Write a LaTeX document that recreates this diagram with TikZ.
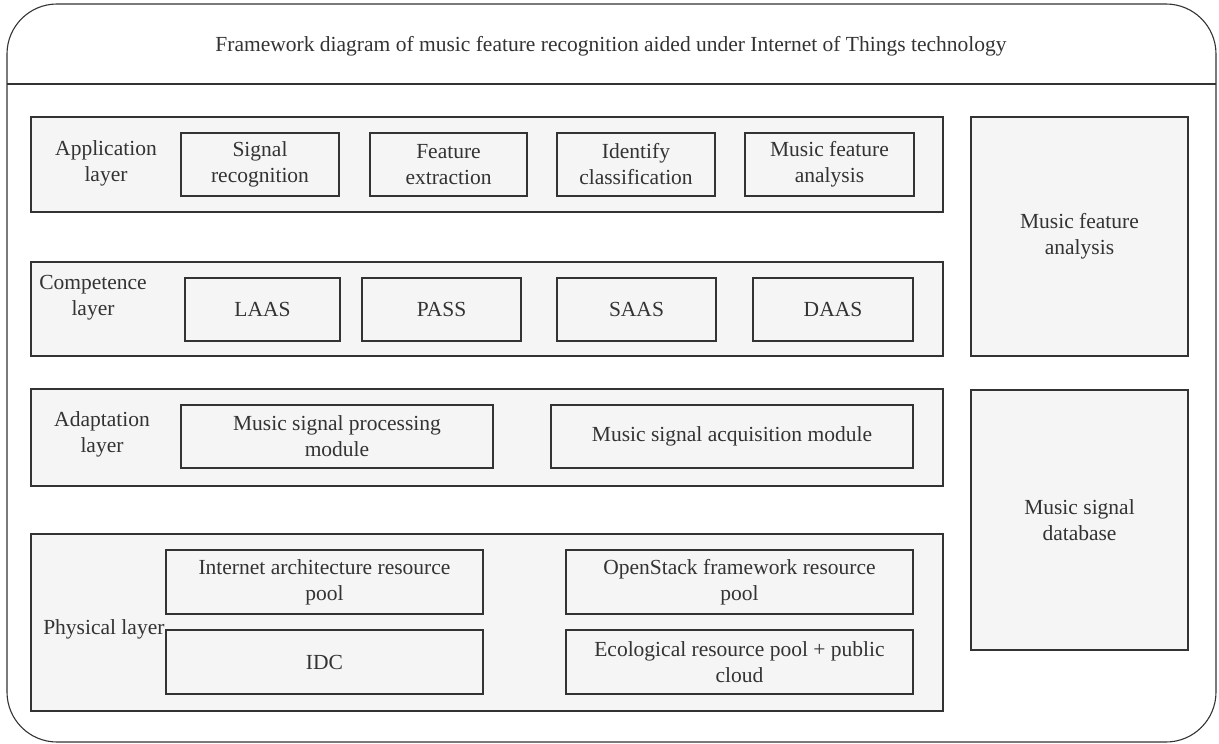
\documentclass[tikz,border=0pt]{standalone}
\usepackage{fontspec}
\setmainfont{Liberation Serif}
\usepackage{xcolor}
\usepackage{tikz}
\definecolor{framegray}{RGB}{51,51,51}
\definecolor{boxfill}{RGB}{245,245,245}

\begin{document}
\begin{tikzpicture}[x=1pt, y=-1pt, line width=1.1pt,
    txt/.style={font=\fontsize{21.5}{26}\selectfont, text=framegray, align=center, inner sep=0pt},
    layer/.style={rectangle, draw=framegray, fill=boxfill, inner sep=0pt},
    module/.style={rectangle, draw=framegray, fill=boxfill, inner sep=0pt, minimum height=63pt, txt},
    side/.style={rectangle, draw=framegray, fill=boxfill, inner sep=0pt, minimum width=217pt, txt}]
    \useasboundingbox (0,0) rectangle (1219,744);

    % outer frame and title
    \draw [framegray, rounded corners=50pt] (7,4) rectangle (1216,742);
    \coordinate (hl) at (7,84);
    \coordinate (hr) at (1216,84);
    \draw [framegray] (hl) -- (hr);
    \node [txt] (title) at (611,46) {Framework diagram of music feature recognition aided under Internet of Things technology};

    % layer boxes
    \node [layer, minimum width=912pt, minimum height=95pt] (app) at (487,164.5) {};
    \node [layer, minimum width=912pt, minimum height=94pt] (comp) at (487,309) {};
    \node [layer, minimum width=912pt, minimum height=97pt] (adapt) at (487,437.5) {};
    \node [layer, minimum width=912pt, minimum height=177pt] (phys) at (487,622.5) {};

    % side boxes
    \node [side, minimum height=239pt] (analysis) at (1079.5,236.5) {Music feature\\analysis};
    \node [side, minimum height=260pt] (database) at (1079.5,520) {Music signal\\database};

    % application layer
    \node [txt] (applabel) at (106,163) {Application\\layer};
    \node [module, minimum width=158pt] (recog) at (260,164.5) {Signal\\recognition};
    \node [module, minimum width=157pt] (extract) at (448.5,164.5) {Feature\\extraction};
    \node [module, minimum width=158pt] (classify) at (636,164.5) {Identify\\classification};
    \node [module, minimum width=169pt] (featan) at (829.5,164.5) {Music feature\\analysis};

    % competence layer
    \node [txt] (complabel) at (93,298) {Competence\\layer};
    \node [module, minimum width=155pt] (laas) at (262.5,309.5) {LAAS};
    \node [module, minimum width=159pt] (pass) at (441.5,309.5) {PASS};
    \node [module, minimum width=159pt] (saas) at (636.5,309.5) {SAAS};
    \node [module, minimum width=160pt] (daas) at (833,309.5) {DAAS};

    % adaptation layer
    \node [txt] (adaptlabel) at (102,434) {Adaptation\\layer};
    \node [module, minimum width=312pt] (proc) at (337,436.5) {Music signal processing\\module};
    \node [module, minimum width=362pt] (acq) at (732,436.5) {Music signal acquisition module};

    % physical layer
    \node [module, minimum width=317pt, minimum height=64pt] (inet) at (324.5,582) {Internet architecture resource\\pool};
    \node [module, minimum width=317pt, minimum height=64pt] (idc) at (324.5,662) {IDC};
    \node [module, minimum width=347pt, minimum height=64pt] (openstack) at (739.5,582) {OpenStack framework resource\\pool};
    \node [module, minimum width=347pt, minimum height=64pt] (eco) at (739.5,662) {Ecological resource pool + public\\cloud};
    \node [txt, anchor=base east] (physlabel) at (165,634) {Physical layer};
\end{tikzpicture}
\end{document}
